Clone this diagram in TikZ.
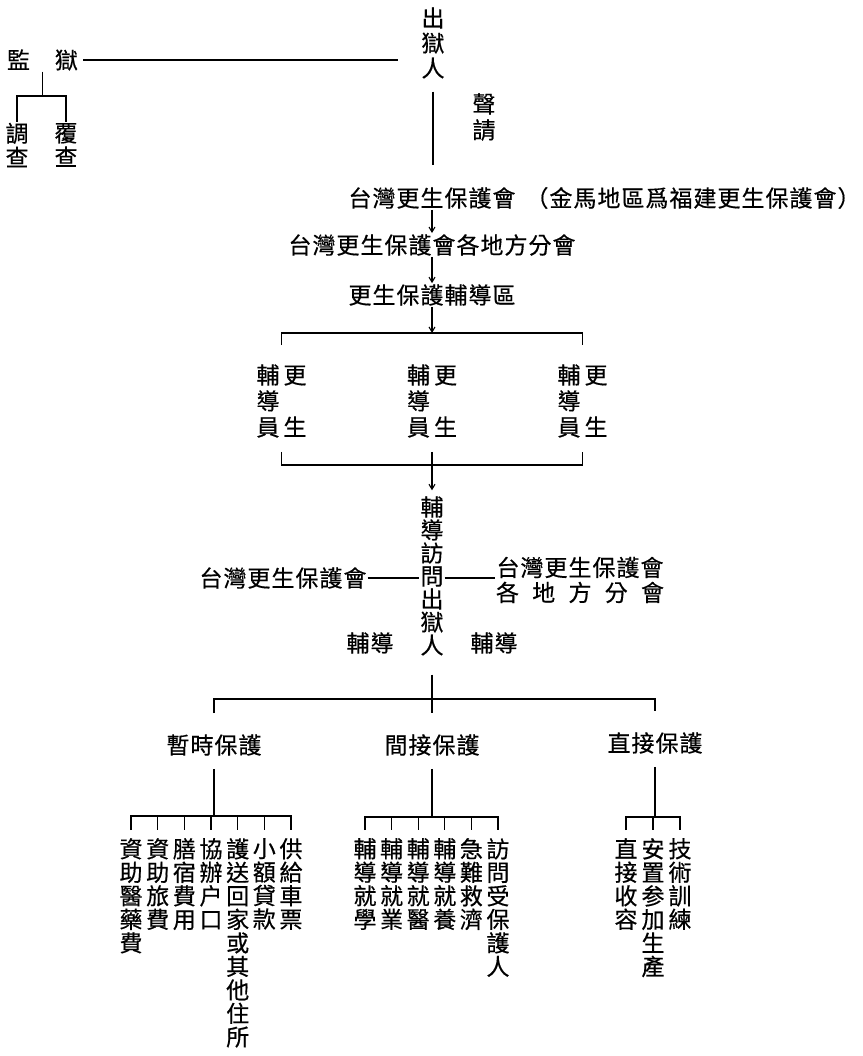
\documentclass[tikz,border=0pt]{standalone}
\usepackage{fontspec}
\newfontfamily\cjkv[FakeBold=0.5]{Noto Sans CJK TC}
\newfontfamily\cjkh[LetterSpace=4.35,FakeBold=0.5]{Noto Sans CJK TC}
\usetikzlibrary{arrows.meta}
\newcommand\gcell[1]{\makebox[27pt]{#1}}
\begin{document}
\begin{tikzpicture}[x=1pt,y=-1pt,
  hz/.style={font=\cjkh\fontsize{23}{25}\selectfont, inner sep=1pt},
  vstack/.style={font=\cjkv\fontsize{23}{#1}\selectfont, align=center, inner sep=1pt},
  vstack/.default=23.5,
  col/.style={vstack=23.5, anchor=north, inner sep=0pt},
  ln/.style={line width=1.2pt},
  arr/.style={line width=1.1pt, -{Straight Barb[length=5pt,width=6pt]}}
]
\fill[white] (0,0) rectangle (862,1056);
\useasboundingbox (0,0) rectangle (862,1056);

% top part
\node[vstack=25] (chuyu) at (433,43) {出\\獄\\人};
\node[hz] (jianyu) at (42.5,60) {監　獄};
\node[vstack=24] (diaocha) at (17,145) {調\\查};
\node[vstack=24] (fucha) at (66,145) {覆\\查};
\node[vstack=26] (shengqing) at (484,117) {聲\\請};
\coordinate (j1) at (42.5,96);

\node[hz] (taiwan) at (432,198) {台灣更生保護會};
\node[hz] (jinma) at (693,198) {（金馬地區爲福建更生保護會）};
\node[hz] (fenhui) at (432,245) {台灣更生保護會各地方分會};
\node[hz] (fudaoqu) at (432,295) {更生保護輔導區};
\coordinate (b1) at (432,333);

\node[vstack=26] (g1) at (281.5,401) {\gcell{輔}\gcell{更}\\\gcell{導}\gcell{}\\\gcell{員}\gcell{生}};
\node[vstack=26] (g2) at (432,401) {\gcell{輔}\gcell{更}\\\gcell{導}\gcell{}\\\gcell{員}\gcell{生}};
\node[vstack=26] (g3) at (582.5,401) {\gcell{輔}\gcell{更}\\\gcell{導}\gcell{}\\\gcell{員}\gcell{生}};
\coordinate (b2) at (432,465);

\node[vstack=23] (fdfw) at (432,576) {輔\\導\\訪\\問\\出\\獄\\人};
\node[hz] (tw2) at (283,578) {台灣更生保護會};
\node[hz, align=center] (tw3) at (580,580) {台灣更生保護會\\\makebox[168pt]{各\hfill 地\hfill 方\hfill 分\hfill 會}};
\node[hz] (fd1) at (370,643) {輔導};
\node[hz] (fd2) at (494,643) {輔導};
\coordinate (m3) at (432,699);

\node[hz] (zs) at (214,745) {暫時保護};
\node[hz] (jj) at (432,745) {間接保護};
\node[hz] (zj) at (655,743) {直接保護};
\coordinate (p1) at (214,816);
\coordinate (p2) at (432,817);
\coordinate (p3) at (655,817);

% group 1 columns
\node[col] (a1) at (131,838) {資\\助\\醫\\藥\\費};
\node[col] (a2) at (157.7,838) {資\\助\\旅\\費};
\node[col] (a3) at (184.3,838) {膳\\宿\\費\\用};
\node[col] (a4) at (211,838) {協\\辦\\户\\口};
\node[col] (a5) at (237.7,838) {護\\送\\回\\家\\或\\其\\他\\住\\所};
\node[col] (a6) at (264.3,838) {小\\額\\貸\\款};
\node[col] (a7) at (291,838) {供\\給\\車\\票};
% group 2 columns
\node[col] (b1c) at (365,838) {輔\\導\\就\\學};
\node[col] (b2c) at (391.6,838) {輔\\導\\就\\業};
\node[col] (b3c) at (418.2,838) {輔\\導\\就\\醫};
\node[col] (b4c) at (444.8,838) {輔\\導\\就\\養};
\node[col] (b5c) at (471.4,838) {急\\難\\救\\濟};
\node[col] (b6c) at (498,838) {訪\\問\\受\\保\\護\\人};
% group 3 columns
\node[col] (c1c) at (626,838) {直\\接\\收\\容};
\node[col] (c2c) at (653,838) {安\\置\\参\\加\\生\\產};
\node[col] (c3c) at (680,838) {技\\術\\訓\\練};

% connectors
\draw[ln, shorten <=4pt, shorten >=22pt] (jianyu.east) -- (jianyu.east -| chuyu.west);
\draw[ln] (jianyu.south) -- (j1);
\draw[ln] (diaocha.north) |- (j1) -| (fucha.north);
\draw[ln, shorten <=12pt, shorten >=21pt] (chuyu.south) -- (chuyu.south |- taiwan.north);

\draw[arr] (taiwan) -- (fenhui);
\draw[arr] (fenhui) -- (fudaoqu);
\draw[arr] (fudaoqu) -- (b1);
\draw[ln, shorten <=18pt, shorten >=18pt] (g1.north) |- (b1) -| (g3.north);
\draw[ln, shorten <=13pt, shorten >=13pt] (g1.south) |- (b2) -| (g3.south);
\draw[arr, shorten <=13pt, shorten >=5pt] (g2.south) -- (g2.south |- fdfw.north);

\draw[ln] (tw2.east) -- (tw2.east -| fdfw.west);
\draw[ln] (fdfw.east |- tw2.east) -- (tw3.west |- tw2.east);
\draw[ln, shorten <=18pt] (fdfw.south) -- (m3);
\draw[ln, shorten <=20pt, shorten >=20pt] (zs.north) |- (m3) -| (zj.north);
\draw[ln, shorten >=20pt] (m3) -- (m3 |- jj.north);

\draw[ln, shorten <=12pt] (zs.south) -- (p1);
\draw[ln, shorten <=12pt] (jj.south) -- (p2);
\draw[ln, shorten <=12pt] (zj.south) -- (p3);

\draw[ln, shorten <=8pt, shorten >=8pt] (a1.north) |- (p1) -| (a7.north);
\foreach \n in {a2,a3,a4,a5,a6}{\draw[ln, shorten >=8pt] (\n.north |- p1) -- (\n.north);}
\draw[ln, shorten <=8pt, shorten >=8pt] (b1c.north) |- (p2) -| (b6c.north);
\foreach \n in {b2c,b3c,b4c,b5c}{\draw[ln, shorten >=8pt] (\n.north |- p2) -- (\n.north);}
\draw[ln, shorten <=8pt, shorten >=8pt] (c1c.north) |- (p3) -| (c3c.north);
\draw[ln, shorten >=8pt] (c2c.north |- p3) -- (c2c.north);
\end{tikzpicture}
\end{document}
